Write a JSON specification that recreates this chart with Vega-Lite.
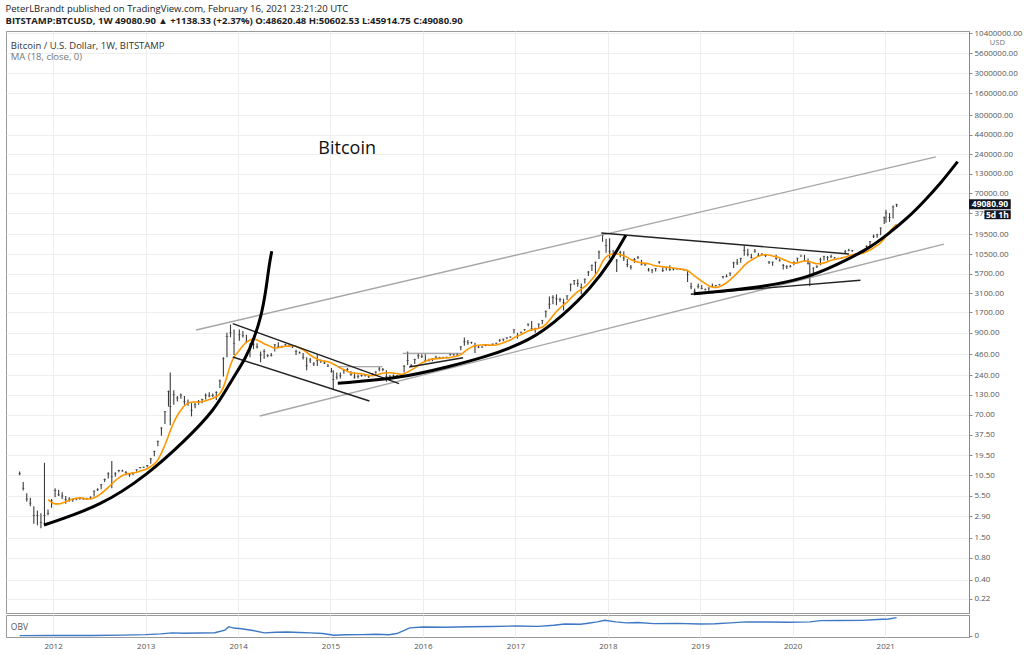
{
  "$schema": "https://vega.github.io/schema/vega-lite/v6.json",
  "description": "Bitcoin / U.S. Dollar weekly bars on a log scale with 18-week MA, trend channels, parabolic curves and an OBV strip.",
  "background": "white",
  "padding": {"left": 5, "top": 3, "right": 0, "bottom": 0},
  "title": {
    "text": "PeterLBrandt published on TradingView.com, February 16, 2021 23:21:20 UTC",
    "subtitle": "BITSTAMP:BTCUSD, 1W  49080.90 ▲ +1138.33 (+2.37%)  O:48620.48  H:50602.53  L:45914.75  C:49080.90",
    "anchor": "start",
    "font": "Open Sans",
    "fontSize": 9.5,
    "fontWeight": "normal",
    "color": "#222",
    "subtitleFont": "Open Sans",
    "subtitleFontSize": 9.5,
    "subtitleFontWeight": "bold",
    "subtitleColor": "#222",
    "subtitlePadding": 3,
    "offset": 3
  },
  "config": {
    "font": "Open Sans",
    "view": {"stroke": "#9a9a9a"},
    "axis": {"labelFont": "Open Sans", "labelColor": "#555", "gridColor": "#eeeeee", "domainColor": "#888", "tickColor": "#888"}
  },
  "datasets": {
    "bars": [
      {"d":"2011-08-22","h":11.8,"l":10.5,"c":11.0},
      {"d":"2011-09-05","h":8.5,"l":6.5,"c":7.0},
      {"d":"2011-09-19","h":6.0,"l":4.6,"c":5.0},
      {"d":"2011-10-03","h":5.2,"l":4.0,"c":4.4},
      {"d":"2011-10-17","h":4.0,"l":2.3,"c":3.0},
      {"d":"2011-10-31","h":3.5,"l":2.2,"c":3.0},
      {"d":"2011-11-14","h":3.2,"l":2.0,"c":2.4},
      {"d":"2011-11-28","h":15.5,"l":2.3,"c":3.0},
      {"d":"2011-12-12","h":3.6,"l":3.0,"c":3.2,"m":4.9},
      {"d":"2011-12-26","h":5.0,"l":3.8,"c":4.7,"m":4.5},
      {"d":"2012-01-09","h":7.0,"l":5.3,"c":6.5,"m":4.3},
      {"d":"2012-01-23","h":6.7,"l":5.5,"c":5.7,"m":4.3},
      {"d":"2012-02-06","h":6.2,"l":5.0,"c":5.5,"m":4.4},
      {"d":"2012-02-20","h":5.5,"l":4.3,"c":4.9,"m":4.6},
      {"d":"2012-03-05","h":5.3,"l":4.6,"c":5.0,"m":4.8},
      {"d":"2012-03-19","h":5.1,"l":4.6,"c":4.9,"m":5.0},
      {"d":"2012-04-02","h":5.2,"l":4.8,"c":5.0,"m":5.1},
      {"d":"2012-04-16","h":5.3,"l":4.9,"c":5.1,"m":5.2},
      {"d":"2012-04-30","h":5.2,"l":4.9,"c":5.0,"m":5.1},
      {"d":"2012-05-14","h":5.2,"l":4.9,"c":5.1,"m":5.0},
      {"d":"2012-05-28","h":5.4,"l":5.0,"c":5.3,"m":5.0},
      {"d":"2012-06-11","h":6.5,"l":5.4,"c":6.4,"m":5.2},
      {"d":"2012-06-25","h":7.0,"l":6.4,"c":6.7,"m":5.5},
      {"d":"2012-07-09","h":8.0,"l":6.8,"c":7.8,"m":5.9},
      {"d":"2012-07-23","h":9.5,"l":8.5,"c":9.2,"m":6.5},
      {"d":"2012-08-06","h":11.5,"l":9.5,"c":11.0,"m":7.2},
      {"d":"2012-08-20","h":16.4,"l":7.0,"c":10.0,"m":8.0},
      {"d":"2012-09-03","h":11.5,"l":10.0,"c":11.0,"m":8.9},
      {"d":"2012-09-17","h":12.5,"l":11.5,"c":12.2,"m":9.7},
      {"d":"2012-10-01","h":12.5,"l":11.8,"c":12.0,"m":10.4},
      {"d":"2012-10-15","h":12.0,"l":10.5,"c":11.5,"m":10.9},
      {"d":"2012-10-29","h":11.0,"l":10.0,"c":10.7,"m":11.1},
      {"d":"2012-11-12","h":11.5,"l":10.5,"c":11.2,"m":11.3},
      {"d":"2012-11-26","h":12.6,"l":11.8,"c":12.5,"m":11.5},
      {"d":"2012-12-10","h":13.6,"l":13.0,"c":13.4,"m":12.0},
      {"d":"2012-12-24","h":13.7,"l":13.2,"c":13.5,"m":12.4},
      {"d":"2013-01-07","h":14.5,"l":13.5,"c":14.2,"m":12.9},
      {"d":"2013-01-21","h":18.0,"l":15.0,"c":17.5,"m":13.8},
      {"d":"2013-02-04","h":22.5,"l":19.0,"c":22.0,"m":15.0},
      {"d":"2013-02-18","h":31,"l":26,"c":30,"m":17},
      {"d":"2013-03-04","h":47,"l":36,"c":46,"m":21},
      {"d":"2013-03-18","h":78,"l":52,"c":76,"m":27},
      {"d":"2013-04-01","h":148,"l":90,"c":143,"m":36},
      {"d":"2013-04-08","h":260,"l":50,"c":90,"m":42},
      {"d":"2013-04-22","h":150,"l":95,"c":130,"m":55},
      {"d":"2013-05-06","h":125,"l":105,"c":117,"m":68},
      {"d":"2013-05-20","h":135,"l":115,"c":129,"m":80},
      {"d":"2013-06-03","h":125,"l":95,"c":105,"m":92},
      {"d":"2013-06-17","h":112,"l":92,"c":102,"m":100},
      {"d":"2013-07-01","h":100,"l":66,"c":80,"m":103},
      {"d":"2013-07-15","h":100,"l":85,"c":95,"m":104},
      {"d":"2013-07-29","h":110,"l":95,"c":105,"m":103},
      {"d":"2013-08-12","h":115,"l":100,"c":112,"m":105},
      {"d":"2013-08-26","h":135,"l":112,"c":128,"m":108},
      {"d":"2013-09-09","h":140,"l":120,"c":125,"m":112},
      {"d":"2013-09-23","h":135,"l":120,"c":127,"m":116},
      {"d":"2013-10-07","h":145,"l":110,"c":140,"m":122},
      {"d":"2013-10-21","h":210,"l":160,"c":200,"m":135},
      {"d":"2013-11-04","h":420,"l":230,"c":400,"m":165},
      {"d":"2013-11-18","h":900,"l":420,"c":800,"m":230},
      {"d":"2013-12-02","h":1163,"l":780,"c":900,"m":330},
      {"d":"2013-12-16","h":1000,"l":450,"c":650,"m":420},
      {"d":"2014-01-06","h":1000,"l":700,"c":850,"m":520},
      {"d":"2014-01-20","h":950,"l":780,"c":820,"m":600},
      {"d":"2014-02-03","h":850,"l":650,"c":680,"m":670},
      {"d":"2014-02-17","h":650,"l":420,"c":580,"m":720},
      {"d":"2014-03-03","h":700,"l":540,"c":630,"m":740},
      {"d":"2014-03-17","h":650,"l":550,"c":580,"m":720},
      {"d":"2014-03-31","h":500,"l":360,"c":450,"m":680},
      {"d":"2014-04-14","h":540,"l":400,"c":500,"m":640},
      {"d":"2014-04-28","h":460,"l":420,"c":440,"m":610},
      {"d":"2014-05-12","h":480,"l":430,"c":445,"m":580},
      {"d":"2014-05-26","h":630,"l":500,"c":620,"m":560},
      {"d":"2014-06-09","h":670,"l":560,"c":590,"m":565},
      {"d":"2014-06-23","h":600,"l":560,"c":590,"m":580},
      {"d":"2014-07-07","h":640,"l":600,"c":620,"m":590},
      {"d":"2014-07-21","h":625,"l":580,"c":590,"m":595},
      {"d":"2014-08-04","h":595,"l":560,"c":580,"m":600},
      {"d":"2014-08-18","h":530,"l":450,"c":500,"m":590},
      {"d":"2014-09-01","h":500,"l":470,"c":480,"m":560},
      {"d":"2014-09-15","h":480,"l":390,"c":420,"m":530},
      {"d":"2014-09-29","h":420,"l":280,"c":320,"m":490},
      {"d":"2014-10-13","h":410,"l":350,"c":385,"m":450},
      {"d":"2014-10-27","h":360,"l":320,"c":340,"m":420},
      {"d":"2014-11-10","h":460,"l":320,"c":380,"m":395},
      {"d":"2014-11-24","h":390,"l":350,"c":375,"m":380},
      {"d":"2014-12-08","h":380,"l":340,"c":350,"m":370},
      {"d":"2014-12-22","h":340,"l":310,"c":318,"m":365},
      {"d":"2015-01-05","h":300,"l":260,"c":270,"m":350},
      {"d":"2015-01-12","h":280,"l":152,"c":210,"m":340},
      {"d":"2015-01-26","h":260,"l":210,"c":225,"m":320},
      {"d":"2015-02-09","h":260,"l":215,"c":235,"m":300},
      {"d":"2015-02-23","h":290,"l":250,"c":275,"m":285},
      {"d":"2015-03-09","h":300,"l":265,"c":285,"m":270},
      {"d":"2015-03-23","h":270,"l":235,"c":245,"m":258},
      {"d":"2015-04-06","h":260,"l":215,"c":225,"m":255},
      {"d":"2015-04-20","h":245,"l":215,"c":230,"m":252},
      {"d":"2015-05-04","h":245,"l":228,"c":237,"m":250},
      {"d":"2015-05-18","h":245,"l":230,"c":238,"m":245},
      {"d":"2015-06-01","h":235,"l":220,"c":228,"m":238},
      {"d":"2015-06-15","h":255,"l":235,"c":250,"m":236},
      {"d":"2015-06-29","h":270,"l":250,"c":265,"m":240},
      {"d":"2015-07-13","h":310,"l":270,"c":290,"m":248},
      {"d":"2015-07-27","h":300,"l":270,"c":285,"m":255},
      {"d":"2015-08-10","h":280,"l":195,"c":230,"m":258},
      {"d":"2015-08-24","h":240,"l":200,"c":228,"m":258},
      {"d":"2015-09-07","h":245,"l":225,"c":235,"m":255},
      {"d":"2015-09-21","h":240,"l":225,"c":235,"m":252},
      {"d":"2015-10-05","h":250,"l":235,"c":245,"m":245},
      {"d":"2015-10-19","h":330,"l":260,"c":315,"m":250},
      {"d":"2015-11-02","h":500,"l":330,"c":380,"m":265},
      {"d":"2015-11-16","h":340,"l":310,"c":325,"m":280},
      {"d":"2015-11-30","h":400,"l":340,"c":390,"m":300},
      {"d":"2015-12-14","h":470,"l":400,"c":440,"m":325},
      {"d":"2015-12-28","h":460,"l":410,"c":430,"m":350},
      {"d":"2016-01-11","h":460,"l":360,"c":380,"m":370},
      {"d":"2016-01-25","h":400,"l":370,"c":375,"m":385},
      {"d":"2016-02-08","h":410,"l":370,"c":400,"m":395},
      {"d":"2016-02-22","h":440,"l":400,"c":420,"m":400},
      {"d":"2016-03-07","h":425,"l":405,"c":415,"m":405},
      {"d":"2016-03-21","h":425,"l":410,"c":418,"m":408},
      {"d":"2016-04-04","h":425,"l":415,"c":420,"m":410},
      {"d":"2016-04-18","h":470,"l":440,"c":460,"m":415},
      {"d":"2016-05-02","h":460,"l":440,"c":455,"m":425},
      {"d":"2016-05-16","h":480,"l":440,"c":450,"m":435},
      {"d":"2016-05-30","h":590,"l":520,"c":580,"m":455},
      {"d":"2016-06-13","h":780,"l":600,"c":680,"m":495},
      {"d":"2016-06-27","h":720,"l":620,"c":660,"m":540},
      {"d":"2016-07-11","h":680,"l":640,"c":660,"m":575},
      {"d":"2016-07-25","h":660,"l":480,"c":590,"m":600},
      {"d":"2016-08-08","h":600,"l":560,"c":575,"m":610},
      {"d":"2016-08-22","h":590,"l":565,"c":575,"m":615},
      {"d":"2016-09-05","h":625,"l":590,"c":610,"m":620},
      {"d":"2016-09-19","h":610,"l":595,"c":605,"m":615},
      {"d":"2016-10-03","h":640,"l":605,"c":635,"m":610},
      {"d":"2016-10-17","h":660,"l":630,"c":650,"m":615},
      {"d":"2016-10-31","h":740,"l":680,"c":710,"m":635},
      {"d":"2016-11-14","h":750,"l":690,"c":740,"m":660},
      {"d":"2016-11-28","h":780,"l":735,"c":770,"m":690},
      {"d":"2016-12-12","h":800,"l":770,"c":790,"m":720},
      {"d":"2016-12-26","h":1000,"l":880,"c":990,"m":770},
      {"d":"2017-01-09","h":900,"l":750,"c":820,"m":810},
      {"d":"2017-01-23","h":930,"l":880,"c":920,"m":850},
      {"d":"2017-02-06","h":1010,"l":960,"c":995,"m":900},
      {"d":"2017-02-20","h":1200,"l":1100,"c":1180,"m":950},
      {"d":"2017-03-06","h":1300,"l":950,"c":1020,"m":990},
      {"d":"2017-03-20","h":1050,"l":900,"c":1030,"m":1010},
      {"d":"2017-04-03","h":1200,"l":1030,"c":1180,"m":1040},
      {"d":"2017-04-17","h":1340,"l":1180,"c":1330,"m":1080},
      {"d":"2017-05-01","h":1800,"l":1450,"c":1760,"m":1170},
      {"d":"2017-05-15","h":2790,"l":1900,"c":2200,"m":1330},
      {"d":"2017-05-29","h":2900,"l":2200,"c":2700,"m":1530},
      {"d":"2017-06-12","h":2990,"l":2130,"c":2600,"m":1750},
      {"d":"2017-06-26","h":2700,"l":2350,"c":2550,"m":1950},
      {"d":"2017-07-10","h":2600,"l":1800,"c":2300,"m":2150},
      {"d":"2017-07-24","h":2900,"l":2500,"c":2850,"m":2350},
      {"d":"2017-08-07","h":4200,"l":3300,"c":4100,"m":2650},
      {"d":"2017-08-21","h":4700,"l":4000,"c":4600,"m":2950},
      {"d":"2017-09-04","h":4800,"l":3800,"c":4200,"m":3250},
      {"d":"2017-09-18","h":4200,"l":3000,"c":3700,"m":3500},
      {"d":"2017-10-02","h":4900,"l":4200,"c":4800,"m":3800},
      {"d":"2017-10-16","h":6200,"l":5300,"c":6000,"m":4200},
      {"d":"2017-10-30","h":7600,"l":6200,"c":7400,"m":4800},
      {"d":"2017-11-13","h":8300,"l":5600,"c":8200,"m":5500},
      {"d":"2017-11-27","h":11800,"l":9000,"c":11200,"m":6600},
      {"d":"2017-12-11","h":19666,"l":15500,"c":19000,"m":8300},
      {"d":"2017-12-25","h":17000,"l":11000,"c":13800,"m":9600},
      {"d":"2018-01-08","h":17200,"l":9200,"c":11500,"m":10300},
      {"d":"2018-01-22","h":12000,"l":9800,"c":10200,"m":10600},
      {"d":"2018-02-05","h":9000,"l":6000,"c":8500,"m":10600},
      {"d":"2018-02-19","h":11700,"l":9500,"c":11100,"m":10400},
      {"d":"2018-03-05","h":11500,"l":8500,"c":9300,"m":10000},
      {"d":"2018-03-19","h":9000,"l":7000,"c":7600,"m":9500},
      {"d":"2018-04-02","h":7500,"l":6500,"c":7000,"m":8900},
      {"d":"2018-04-16","h":9300,"l":8000,"c":8900,"m":8500},
      {"d":"2018-04-30","h":9900,"l":9000,"c":9500,"m":8200},
      {"d":"2018-05-14","h":8800,"l":7500,"c":7500,"m":8000},
      {"d":"2018-05-28","h":7700,"l":7300,"c":7500,"m":7900},
      {"d":"2018-06-11","h":6800,"l":6100,"c":6400,"m":7800},
      {"d":"2018-06-25","h":6600,"l":5800,"c":6400,"m":7500},
      {"d":"2018-07-09","h":6800,"l":6100,"c":6700,"m":7300},
      {"d":"2018-07-23","h":8500,"l":7800,"c":8200,"m":7200},
      {"d":"2018-08-06","h":7000,"l":6000,"c":6300,"m":7100},
      {"d":"2018-08-20","h":7000,"l":6300,"c":6900,"m":7000},
      {"d":"2018-09-03","h":7400,"l":6200,"c":6500,"m":6900},
      {"d":"2018-09-17","h":6800,"l":6300,"c":6600,"m":6800},
      {"d":"2018-10-01","h":6700,"l":6500,"c":6600,"m":6700},
      {"d":"2018-10-15","h":6700,"l":6400,"c":6500,"m":6600},
      {"d":"2018-10-29","h":6500,"l":6300,"c":6400,"m":6500},
      {"d":"2018-11-12","h":6400,"l":4400,"c":5500,"m":6300},
      {"d":"2018-11-26","h":4300,"l":3500,"c":3800,"m":5800},
      {"d":"2018-12-10","h":3600,"l":3150,"c":3300,"m":5300},
      {"d":"2018-12-24","h":4200,"l":3600,"c":3850,"m":4900},
      {"d":"2019-01-07","h":4000,"l":3500,"c":3600,"m":4500},
      {"d":"2019-01-21","h":3600,"l":3400,"c":3450,"m":4200},
      {"d":"2019-02-04","h":3700,"l":3350,"c":3650,"m":3900},
      {"d":"2019-02-18","h":4200,"l":3700,"c":3850,"m":3750},
      {"d":"2019-03-04","h":4000,"l":3800,"c":3950,"m":3700},
      {"d":"2019-03-18","h":4100,"l":3950,"c":4050,"m":3800},
      {"d":"2019-04-01","h":5300,"l":4900,"c":5200,"m":4000},
      {"d":"2019-04-15","h":5600,"l":5100,"c":5200,"m":4300},
      {"d":"2019-04-29","h":5900,"l":5300,"c":5800,"m":4700},
      {"d":"2019-05-13","h":8300,"l":6800,"c":8000,"m":5200},
      {"d":"2019-05-27","h":9000,"l":7500,"c":8000,"m":5800},
      {"d":"2019-06-10","h":9400,"l":8000,"c":9200,"m":6500},
      {"d":"2019-06-24","h":13800,"l":10000,"c":11800,"m":7400},
      {"d":"2019-07-08","h":12400,"l":9800,"c":10500,"m":8100},
      {"d":"2019-07-22","h":10600,"l":9200,"c":9500,"m":8700},
      {"d":"2019-08-05","h":12300,"l":11000,"c":11500,"m":9300},
      {"d":"2019-08-19","h":10900,"l":9800,"c":10100,"m":9800},
      {"d":"2019-09-02","h":10900,"l":10200,"c":10300,"m":10200},
      {"d":"2019-09-16","h":10300,"l":9600,"c":10050,"m":10400},
      {"d":"2019-09-30","h":8500,"l":7700,"c":8200,"m":10200},
      {"d":"2019-10-14","h":8300,"l":7300,"c":8200,"m":9900},
      {"d":"2019-10-28","h":10300,"l":8800,"c":9200,"m":9700},
      {"d":"2019-11-11","h":9100,"l":8400,"c":8500,"m":9400},
      {"d":"2019-11-25","h":7700,"l":6500,"c":7400,"m":8900},
      {"d":"2019-12-09","h":7400,"l":6600,"c":7100,"m":8500},
      {"d":"2019-12-23","h":7500,"l":6900,"c":7200,"m":8100},
      {"d":"2020-01-06","h":8400,"l":7400,"c":8100,"m":7900},
      {"d":"2020-01-20","h":9300,"l":8300,"c":9300,"m":8000},
      {"d":"2020-02-03","h":10100,"l":9600,"c":10200,"m":8300},
      {"d":"2020-02-17","h":10300,"l":8600,"c":8600,"m":8500},
      {"d":"2020-03-02","h":9200,"l":7600,"c":7900,"m":8500},
      {"d":"2020-03-09","h":8100,"l":3850,"c":5300,"m":8300},
      {"d":"2020-03-23","h":6900,"l":5800,"c":6800,"m":8000},
      {"d":"2020-04-06","h":7400,"l":6800,"c":7100,"m":7800},
      {"d":"2020-04-20","h":9400,"l":7400,"c":8800,"m":7800},
      {"d":"2020-05-04","h":10000,"l":8600,"c":9700,"m":8000},
      {"d":"2020-05-18","h":9900,"l":8600,"c":9500,"m":8300},
      {"d":"2020-06-01","h":10300,"l":9300,"c":9700,"m":8700},
      {"d":"2020-06-15","h":9600,"l":9200,"c":9300,"m":8900},
      {"d":"2020-06-29","h":9400,"l":9000,"c":9200,"m":9100},
      {"d":"2020-07-13","h":9500,"l":9100,"c":9300,"m":9300},
      {"d":"2020-07-27","h":12000,"l":10600,"c":11300,"m":9600},
      {"d":"2020-08-10","h":12400,"l":11500,"c":11700,"m":10000},
      {"d":"2020-08-24","h":12000,"l":11300,"c":11700,"m":10300},
      {"d":"2020-09-07","h":10800,"l":9900,"c":10300,"m":10500},
      {"d":"2020-09-21","h":11000,"l":10200,"c":10700,"m":10700},
      {"d":"2020-10-05","h":11500,"l":10600,"c":11400,"m":10900},
      {"d":"2020-10-19","h":13800,"l":12800,"c":13500,"m":11300},
      {"d":"2020-11-02","h":15900,"l":13300,"c":15500,"m":11900},
      {"d":"2020-11-16","h":19400,"l":17400,"c":18400,"m":12800},
      {"d":"2020-11-30","h":19900,"l":17600,"c":19200,"m":13800},
      {"d":"2020-12-14","h":24200,"l":19000,"c":23800,"m":15000},
      {"d":"2020-12-28","h":34000,"l":27000,"c":33000,"m":17000},
      {"d":"2021-01-04","h":41900,"l":28000,"c":38000,"m":18500},
      {"d":"2021-01-18","h":38000,"l":28800,"c":33000,"m":21000},
      {"d":"2021-02-01","h":48000,"l":32000,"c":46000,"m":24000},
      {"d":"2021-02-15","h":50600,"l":45900,"c":49080.9,"m":27000}
    ],
    "lines": [
      {"g":"up","k":"ch","d":"2013-07-19","p":982},
      {"g":"up","k":"ch","d":"2021-07-20","p":219000},
      {"g":"lo","k":"ch","d":"2014-03-28","p":66.8},
      {"g":"lo","k":"ch","d":"2021-08-21","p":14400},
      {"g":"h1","k":"gt","d":"2015-01-30","p":312},
      {"g":"h1","k":"gt","d":"2015-07-26","p":312},
      {"g":"h2","k":"gt","d":"2015-10-13","p":474},
      {"g":"h2","k":"gt","d":"2016-06-01","p":474},
      {"g":"w1","k":"bl","d":"2013-12-11","p":1197},
      {"g":"w1","k":"bl","d":"2015-09-29","p":184},
      {"g":"w2","k":"bl","d":"2013-12-11","p":423},
      {"g":"w2","k":"bl","d":"2015-06-04","p":107},
      {"g":"r1","k":"bl","d":"2015-11-08","p":309},
      {"g":"r1","k":"bl","d":"2016-06-08","p":413},
      {"g":"t1","k":"bl","d":"2017-12-06","p":20300},
      {"g":"t1","k":"bl","d":"2020-08-11","p":10560},
      {"g":"t2","k":"bl","d":"2018-11-25","p":3000},
      {"g":"t2","k":"bl","d":"2020-09-25","p":4650},
      {"g":"c1","k":"tk","d":"2011-11-26","p":2.22},
      {"g":"c1","k":"tk","d":"2012-07-08","p":4.02},
      {"g":"c1","k":"tk","d":"2013-01-10","p":10.8},
      {"g":"c1","k":"tk","d":"2013-06-03","p":30.6},
      {"g":"c1","k":"tk","d":"2013-09-28","p":78.2},
      {"g":"c1","k":"tk","d":"2013-12-04","p":199},
      {"g":"c1","k":"tk","d":"2014-02-02","p":414},
      {"g":"c1","k":"tk","d":"2014-03-06","p":773},
      {"g":"c1","k":"tk","d":"2014-04-01","p":1443},
      {"g":"c1","k":"tk","d":"2014-04-21","p":3320},
      {"g":"c1","k":"tk","d":"2014-05-04","p":7650},
      {"g":"c1","k":"tk","d":"2014-05-14","p":11480},
      {"g":"c2","k":"tk","d":"2015-01-30","p":186},
      {"g":"c2","k":"tk","d":"2015-10-07","p":217},
      {"g":"c2","k":"tk","d":"2016-04-22","p":319},
      {"g":"c2","k":"tk","d":"2016-08-19","p":406},
      {"g":"c2","k":"tk","d":"2017-03-04","p":697},
      {"g":"c2","k":"tk","d":"2017-07-13","p":1603},
      {"g":"c2","k":"tk","d":"2017-10-27","p":3680},
      {"g":"c2","k":"tk","d":"2018-01-14","p":8490},
      {"g":"c2","k":"tk","d":"2018-03-13","p":19000},
      {"g":"c3","k":"tk","d":"2018-12-07","p":3050},
      {"g":"c3","k":"tk","d":"2019-08-28","p":3680},
      {"g":"c3","k":"tk","d":"2020-02-29","p":5030},
      {"g":"c3","k":"tk","d":"2020-06-14","p":7260},
      {"g":"c3","k":"tk","d":"2020-10-24","p":12200},
      {"g":"c3","k":"tk","d":"2021-01-11","p":19500},
      {"g":"c3","k":"tk","d":"2021-04-01","p":32800},
      {"g":"c3","k":"tk","d":"2021-06-05","p":55300},
      {"g":"c3","k":"tk","d":"2021-08-10","p":98000},
      {"g":"c3","k":"tk","d":"2021-10-14","p":189000}
    ],
    "notes": [
      {"k":"a","d":"2011-07-18","p":7000000,"t":"Bitcoin / U.S. Dollar, 1W, BITSTAMP"},
      {"k":"b","d":"2011-07-18","p":4970000,"t":"MA (18, close, 0)"},
      {"k":"c","d":"2015-03-08","p":280000,"t":"Bitcoin"},
      {"k":"u","d":"2022-03-20","p":7700000,"t":"USD"}
    ],
    "tags": [
      {"t":"49080.90","d1":"2021-11-28","d2":"2022-05-12","p1":42700,"p2":58300,"dm":"2022-02-19","pm":49900},
      {"t":"5d 1h","d1":"2022-01-28","d2":"2022-05-12","p1":31300,"p2":41400,"dm":"2022-03-20","pm":35900}
    ],
    "obv": [
      {"d":"2011-08-22","v":0},{"d":"2012-01-01","v":0.5},{"d":"2012-06-01","v":1},{"d":"2012-10-01","v":3},
      {"d":"2013-01-01","v":6},{"d":"2013-03-01","v":10},{"d":"2013-04-15","v":16},{"d":"2013-06-01","v":14},
      {"d":"2013-08-01","v":15},{"d":"2013-10-01","v":17},{"d":"2013-11-10","v":32},{"d":"2013-11-25","v":52},
      {"d":"2013-12-15","v":44},{"d":"2014-01-15","v":40},{"d":"2014-03-01","v":30},{"d":"2014-04-15","v":16},
      {"d":"2014-06-01","v":20},{"d":"2014-07-15","v":21},{"d":"2014-09-01","v":18},{"d":"2014-10-15","v":16},
      {"d":"2014-12-01","v":12},{"d":"2015-01-15","v":2},{"d":"2015-03-01","v":5},{"d":"2015-05-01","v":6},
      {"d":"2015-07-01","v":8},{"d":"2015-08-20","v":5},{"d":"2015-09-20","v":12},{"d":"2015-10-20","v":30},
      {"d":"2015-11-10","v":45},{"d":"2016-01-01","v":50},{"d":"2016-04-01","v":49},{"d":"2016-07-01","v":52},
      {"d":"2016-10-01","v":53},{"d":"2017-01-01","v":56},{"d":"2017-04-01","v":54},{"d":"2017-06-01","v":60},
      {"d":"2017-07-15","v":68},{"d":"2017-09-15","v":66},{"d":"2017-10-15","v":72},{"d":"2017-11-20","v":80},
      {"d":"2017-12-20","v":89},{"d":"2018-02-01","v":80},{"d":"2018-03-15","v":74},{"d":"2018-05-01","v":76},
      {"d":"2018-07-01","v":70},{"d":"2018-10-01","v":71},{"d":"2019-01-01","v":68},{"d":"2019-03-01","v":69},
      {"d":"2019-05-01","v":74},{"d":"2019-07-01","v":80},{"d":"2019-10-01","v":79},{"d":"2019-12-15","v":78},
      {"d":"2020-03-10","v":80},{"d":"2020-04-20","v":87},{"d":"2020-07-01","v":88},{"d":"2020-10-01","v":89},
      {"d":"2020-12-01","v":94},{"d":"2021-01-15","v":97},{"d":"2021-02-15","v":105}
    ]
  },
  "spacing": 0,
  "vconcat": [
    {
      "width": 963,
      "height": 582,
      "layer": [
        {
          "data": {"name": "bars"},
          "mark": {"type": "rule", "color": "#3a3a3a", "strokeWidth": 1.1},
          "encoding": {
            "x": {
              "field": "d", "type": "temporal",
              "scale": {"domain": ["2011-06-29", "2021-11-28"]},
              "axis": {"title": null, "grid": true, "labels": false, "ticks": false, "domain": false, "tickCount": {"interval": "year", "step": 1}}
            },
            "y": {
              "field": "l", "type": "quantitative",
              "scale": {"type": "log", "domain": [0.142, 11200000], "nice": false},
              "axis": {
                "orient": "right", "title": null, "format": ".2f", "labelFontSize": 8, "tickSize": 3, "labelPadding": 2,
                "values": [0.22, 0.4, 0.8, 1.5, 2.9, 5.5, 10.5, 19.5, 37.5, 70, 130, 240, 460, 900, 1700, 3100, 5700, 10500, 19500, 37500, 70000, 130000, 240000, 440000, 800000, 1600000, 3000000, 5600000, 10400000]
              }
            },
            "y2": {"field": "h"}
          }
        },
        {
          "data": {"name": "bars"},
          "mark": {"type": "tick", "orient": "horizontal", "size": 2.5, "thickness": 0.8, "color": "#3a3a3a"},
          "encoding": {
            "x": {"field": "d", "type": "temporal"},
            "y": {"field": "c", "type": "quantitative"}
          }
        },
        {
          "data": {"name": "bars"},
          "mark": {"type": "line", "color": "#ff9800", "strokeWidth": 1.6, "interpolate": "monotone"},
          "encoding": {
            "x": {"field": "d", "type": "temporal"},
            "y": {"field": "m", "type": "quantitative"}
          }
        },
        {
          "data": {"name": "lines"},
          "transform": [{"filter": {"field": "k", "equal": "ch"}}],
          "mark": {"type": "line", "color": "#a6a6a6", "strokeWidth": 1.4},
          "encoding": {
            "x": {"field": "d", "type": "temporal"},
            "y": {"field": "p", "type": "quantitative"},
            "detail": {"field": "g"}
          }
        },
        {
          "data": {"name": "lines"},
          "transform": [{"filter": {"field": "k", "equal": "gt"}}],
          "mark": {"type": "line", "color": "#8c8c8c", "strokeWidth": 1.1},
          "encoding": {
            "x": {"field": "d", "type": "temporal"},
            "y": {"field": "p", "type": "quantitative"},
            "detail": {"field": "g"}
          }
        },
        {
          "data": {"name": "lines"},
          "transform": [{"filter": {"field": "k", "equal": "bl"}}],
          "mark": {"type": "line", "color": "#222", "strokeWidth": 1.4},
          "encoding": {
            "x": {"field": "d", "type": "temporal"},
            "y": {"field": "p", "type": "quantitative"},
            "detail": {"field": "g"}
          }
        },
        {
          "data": {"name": "lines"},
          "transform": [{"filter": {"field": "k", "equal": "tk"}}],
          "mark": {"type": "line", "color": "#000", "strokeWidth": 3, "interpolate": "basis"},
          "encoding": {
            "x": {"field": "d", "type": "temporal"},
            "y": {"field": "p", "type": "quantitative"},
            "detail": {"field": "g"}
          }
        },
        {
          "mark": {"type": "rule", "color": "#666", "strokeWidth": 1, "strokeDash": [1, 2]},
          "encoding": {"y": {"datum": 49080.9}}
        },
        {
          "data": {"name": "tags"},
          "mark": {"type": "rect", "color": "#131722"},
          "encoding": {
            "x": {"field": "d1", "type": "temporal"},
            "x2": {"field": "d2"},
            "y": {"field": "p1", "type": "quantitative"},
            "y2": {"field": "p2"}
          }
        },
        {
          "data": {"name": "tags"},
          "mark": {"type": "text", "color": "white", "fontSize": 8.5, "fontWeight": "bold"},
          "encoding": {
            "x": {"field": "dm", "type": "temporal"},
            "y": {"field": "pm", "type": "quantitative"},
            "text": {"field": "t"}
          }
        },
        {
          "data": {"name": "notes"},
          "transform": [{"filter": {"field": "k", "equal": "a"}}],
          "mark": {"type": "text", "align": "left", "baseline": "middle", "fontSize": 9.5, "color": "#333"},
          "encoding": {
            "x": {"field": "d", "type": "temporal"},
            "y": {"field": "p", "type": "quantitative"},
            "text": {"field": "t"}
          }
        },
        {
          "data": {"name": "notes"},
          "transform": [{"filter": {"field": "k", "equal": "b"}}],
          "mark": {"type": "text", "align": "left", "baseline": "middle", "fontSize": 9.5, "color": "#777"},
          "encoding": {
            "x": {"field": "d", "type": "temporal"},
            "y": {"field": "p", "type": "quantitative"},
            "text": {"field": "t"}
          }
        },
        {
          "data": {"name": "notes"},
          "transform": [{"filter": {"field": "k", "equal": "c"}}],
          "mark": {"type": "text", "align": "center", "baseline": "middle", "fontSize": 18, "color": "#111"},
          "encoding": {
            "x": {"field": "d", "type": "temporal"},
            "y": {"field": "p", "type": "quantitative"},
            "text": {"field": "t"}
          }
        },
        {
          "data": {"name": "notes"},
          "transform": [{"filter": {"field": "k", "equal": "u"}}],
          "mark": {"type": "text", "align": "center", "baseline": "middle", "fontSize": 7.5, "color": "#777"},
          "encoding": {
            "x": {"field": "d", "type": "temporal"},
            "y": {"field": "p", "type": "quantitative"},
            "text": {"field": "t"}
          }
        }
      ]
    },
    {
      "width": 963,
      "height": 22,
      "layer": [
        {
          "data": {"name": "obv"},
          "mark": {"type": "line", "color": "#3f78c3", "strokeWidth": 1.4},
          "encoding": {
            "x": {
              "field": "d", "type": "temporal",
              "scale": {"domain": ["2011-06-29", "2021-11-28"]},
              "axis": {"title": null, "grid": true, "format": "%Y", "labelFontSize": 8, "ticks": false, "domain": false, "labelPadding": 5, "tickCount": {"interval": "year", "step": 1}}
            },
            "y": {
              "field": "v", "type": "quantitative",
              "scale": {"domain": [-8, 120], "nice": false, "zero": false},
              "axis": {"orient": "right", "title": null, "values": [0], "grid": false, "labelFontSize": 8, "tickSize": 3, "labelPadding": 2}
            }
          }
        },
        {
          "data": {"values": [{"d": "2011-07-18", "v": 52, "t": "OBV"}]},
          "mark": {"type": "text", "align": "left", "baseline": "middle", "fontSize": 8.5, "color": "#555"},
          "encoding": {
            "x": {"field": "d", "type": "temporal"},
            "y": {"field": "v", "type": "quantitative"},
            "text": {"field": "t"}
          }
        }
      ]
    }
  ]
}
